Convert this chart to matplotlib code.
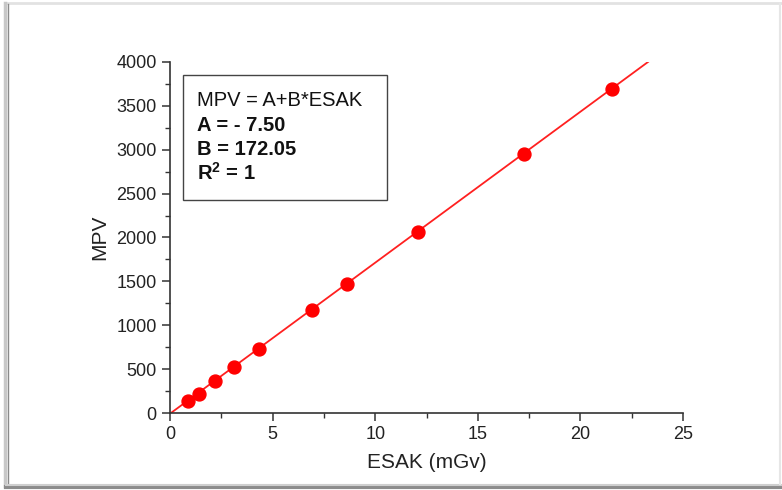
import matplotlib
matplotlib.use("Agg")
import matplotlib.pyplot as plt
from matplotlib.patches import Rectangle
from matplotlib.lines import Line2D
from matplotlib.ticker import MultipleLocator
import numpy as np

esak = [0.88, 1.41, 2.19, 3.12, 4.34, 6.92, 8.63, 12.09, 17.25, 21.54]
mpv = [140, 222, 360, 520, 728, 1178, 1472, 2066, 2955, 3694]
fit_a = -7.50
fit_b = 172.05
fit_x_end = 23.3
fit_lines = ["MPV = A+B*ESAK", "A = - 7.50", "B = 172.05", r"R$^\mathregular{2}$ = 1"]

plt.rcParams['font.family'] = ['Liberation Sans', 'DejaVu Sans']

W, H = 782, 490
fig = plt.figure(figsize=(W / 100, H / 100), dpi=100)

def fl(x0, y0, x1, y1, color, lw):
    # figure-pixel coordinates measured from top-left
    fig.add_artist(Line2D([x0 / W, x1 / W], [1 - y0 / H, 1 - y1 / H],
                          transform=fig.transFigure, color=color, linewidth=lw, zorder=0))

# outer frame with shadow
fl(6, 3, 782, 3, '#e2e2e2', 2.0)
fl(5, 3, 5, 486, '#c8c8c8', 2.5)
fl(7.5, 4, 7.5, 484, '#8a8a8a', 1.0)
fl(6, 487, 782, 487, '#8c8c8c', 3.0)
fl(6, 484.5, 782, 484.5, '#cfcfcf', 1.5)
fl(780, 4, 780, 484, '#e6e6e6', 1.5)

ax = fig.add_axes([170 / W, 1 - 413 / H, 513 / W, 351 / H])

xs = np.array([0, fit_x_end])
ax.plot(xs, fit_a + fit_b * xs, color='#ff2020', linewidth=1.3, zorder=2)
ax.plot(esak, mpv, 'o', color='#ff0000', markersize=9.3, zorder=3)

ax.set_xlim(0, 25)
ax.set_ylim(0, 4000)
ax.xaxis.set_major_locator(MultipleLocator(5))
ax.xaxis.set_minor_locator(MultipleLocator(2.5))
ax.yaxis.set_major_locator(MultipleLocator(500))
ax.yaxis.set_minor_locator(MultipleLocator(250))
for s in ['top', 'right']:
    ax.spines[s].set_visible(False)
for s in ['left', 'bottom']:
    ax.spines[s].set_color('#333333')
    ax.spines[s].set_linewidth(1.2)
ax.tick_params(which='major', length=6, width=1.1, color='#333333', labelsize=13,
               labelcolor='#222222', pad=3.5)
ax.tick_params(which='minor', length=3.5, width=1.0, color='#333333')
ax.set_xlabel("ESAK (mGv)", fontsize=15, color='#222222', labelpad=7)
ax.set_ylabel("MPV", fontsize=15, color='#222222', labelpad=5)

# fit text box
ax.add_patch(Rectangle((0.025, 0.607), 0.398, 0.356, transform=ax.transAxes,
                       fill=True, facecolor='white', edgecolor='#444444', linewidth=1.0, zorder=4))
ys = [0.889, 0.818, 0.750, 0.684]
for i, (t, y) in enumerate(zip(fit_lines, ys)):
    ax.text(0.052, y, t, transform=ax.transAxes, fontsize=14.5,
            fontweight='normal' if i == 0 else 'bold', va='center', ha='left',
            color='#111111', zorder=5)

fig.savefig("out.png", dpi=100)
